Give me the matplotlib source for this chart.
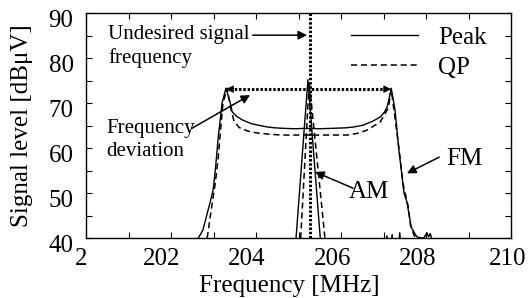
import numpy as np
import matplotlib
matplotlib.use('Agg')
import matplotlib.pyplot as plt
from matplotlib.ticker import MultipleLocator
from matplotlib.transforms import ScaledTranslation

plt.rcParams['font.family'] = ['Liberation Serif', 'DejaVu Serif']

# FM signal, peak detector
fm_peak_f = [202.64, 202.75, 202.85, 202.92, 202.99, 203.05, 203.11, 203.20, 203.29,
             203.38, 203.44, 203.55, 203.69, 203.90, 204.10, 204.26, 204.45, 204.64,
             204.90, 205.20, 205.50, 205.80, 206.10, 206.30, 206.52, 206.75, 206.92,
             207.02, 207.08, 207.13, 207.18, 207.27, 207.36, 207.48, 207.55, 207.65,
             207.78, 207.90, 207.95, 208.02, 208.06, 208.10, 208.14]
fm_peak_db = [40.0, 41.8, 45.5, 48.0, 50.7, 56.0, 62.4, 70.0, 73.3,
              70.5, 68.0, 67.0, 66.2, 65.4, 65.0, 64.7, 64.5, 64.4,
              64.3, 64.4, 64.3, 64.4, 64.5, 64.7, 65.1, 66.0, 66.9,
              68.0, 69.1, 71.0, 73.3, 68.4, 59.6, 50.0, 48.0, 42.4,
              40.3, 40.0, 40.1, 41.2, 40.3, 41.0, 39.5]

# FM signal, quasi-peak detector
fm_qp_f = [202.85, 202.92, 202.98, 203.04, 203.11, 203.22, 203.32, 203.40, 203.48,
           203.60, 203.80, 204.00, 204.30, 204.60, 205.00, 205.50, 206.14, 206.40,
           206.61, 206.92, 207.11, 207.15, 207.18, 207.25, 207.36, 207.46, 207.52,
           207.58, 207.63, 207.72, 207.80]
fm_qp_db = [40.0, 44.7, 48.5, 52.2, 58.0, 70.0, 73.3, 69.0, 66.0,
            64.6, 63.8, 63.4, 63.1, 62.9, 62.9, 62.9, 62.9, 63.3,
            64.0, 65.8, 68.9, 71.3, 73.0, 68.0, 60.0, 52.0, 49.5,
            47.0, 43.0, 40.5, 40.0]

# AM signal, peak detector (noise floor below 40 dB with a few spikes)
am_peak_f = [204.50, 204.94, 205.22, 205.51, 205.70, 206.90, 207.05, 207.08, 207.11,
             207.17, 207.20, 207.23, 207.35, 207.38, 207.41, 207.60]
am_peak_db = [37.0, 40.0, 75.2, 40.0, 37.0, 38.0, 38.0, 40.5, 38.0,
              38.0, 40.8, 38.0, 38.0, 41.2, 38.0, 37.0]

# AM signal, quasi-peak detector
am_qp_f = [204.70, 205.05, 205.25, 205.62, 205.80]
am_qp_db = [37.0, 40.0, 74.8, 40.0, 37.0]

undesired_freq = 205.26
dev_start, dev_end, dev_level = 203.29, 207.18, 73.1

xticks = [200, 202, 204, 206, 208, 210]
xtick_labels = ['2', '202', '204', '206', '208', '210']
yticks = [40, 50, 60, 70, 80, 90]

fig = plt.figure(figsize=(5.28, 2.98), dpi=100)
ax = fig.add_axes([0.163, 0.201, 0.805, 0.755])

dash = (0, (4, 2.5))
dots = (0, (0.8, 0.6))
ax.plot(fm_peak_f, fm_peak_db, color='k', lw=1.0, label='Peak')
ax.plot(fm_qp_f, fm_qp_db, color='k', lw=1.1, ls=dash, label='QP')
ax.plot(am_peak_f, am_peak_db, color='k', lw=1.0)
ax.plot(am_qp_f, am_qp_db, color='k', lw=1.1, ls=dash)

ax.axvline(undesired_freq, color='k', lw=2.2, ls=dots)
ax.plot([dev_start + 0.1, dev_end - 0.1], [dev_level, dev_level], color='k', lw=2.2, ls=dots)
head = dict(arrowstyle='-|>', color='k', lw=0.8, mutation_scale=11, shrinkA=0, shrinkB=0)
ax.annotate('', xy=(dev_start, dev_level), xytext=(dev_start + 0.15, dev_level), arrowprops=head)
ax.annotate('', xy=(dev_end, dev_level), xytext=(dev_end - 0.15, dev_level), arrowprops=head)

arrow = dict(arrowstyle='-|>', color='k', lw=1.1, mutation_scale=13, shrinkA=0, shrinkB=0)
ax.text(200.52, 82.6, 'Undesired signal\nfrequency', fontsize=15, ha='left', va='center',
        linespacing=1.25)
ax.annotate('', xy=(205.2, 85.1), xytext=(203.92, 85.1), arrowprops=arrow)
ax.text(200.47, 61.8, 'Frequency\ndeviation', fontsize=15, ha='left', va='center',
        linespacing=1.3)
ax.annotate('', xy=(203.86, 71.8), xytext=(202.49, 64.4), arrowprops=arrow)
ax.text(206.66, 50.2, 'AM', fontsize=18, ha='center', va='center')
ax.annotate('', xy=(205.39, 54.7), xytext=(206.28, 51.1), arrowprops=arrow)
ax.text(208.89, 57.6, 'FM', fontsize=18, ha='center', va='center')
ax.annotate('', xy=(207.55, 54.4), xytext=(208.31, 58.0), arrowprops=arrow)

ax.set_xlim(200, 210)
ax.set_ylim(40, 90)
ax.set_xticks(xticks, labels=xtick_labels)
ax.set_yticks(yticks)
ax.xaxis.set_minor_locator(MultipleLocator(1))
ax.yaxis.set_minor_locator(MultipleLocator(5))
ax.tick_params(which='both', direction='in', top=True, right=True, length=4, width=0.8)
ax.tick_params(axis='x', labelsize=18, pad=7)
ax.tick_params(axis='y', labelsize=18, pad=9)
for sp in ax.spines.values():
    sp.set_linewidth(1.0)

# tick labels sit slightly off their ticks in the original
x_shift = [-5, -9, -9, -8, -8, -3]
for lab, dx in zip(ax.get_xticklabels(), x_shift):
    lab.set_transform(lab.get_transform() + ScaledTranslation(dx / 100, 0, fig.dpi_scale_trans))
for lab in ax.get_yticklabels():
    lab.set_transform(lab.get_transform() + ScaledTranslation(0, -5 / 100, fig.dpi_scale_trans))

ax.set_xlabel('Frequency [MHz]', fontsize=18)
ax.xaxis.set_label_coords(0.478, -0.165)
ax.set_ylabel('Signal level [dBμV]', fontsize=18)
ax.yaxis.set_label_coords(-0.125, 0.5)

ax.legend(loc='upper right', bbox_to_anchor=(0.96, 0.975), frameon=False, fontsize=18,
          handlelength=2.7, handletextpad=0.8, labelspacing=0.3, borderaxespad=0,
          borderpad=0.3)

fig.savefig('out.png', dpi=100)
